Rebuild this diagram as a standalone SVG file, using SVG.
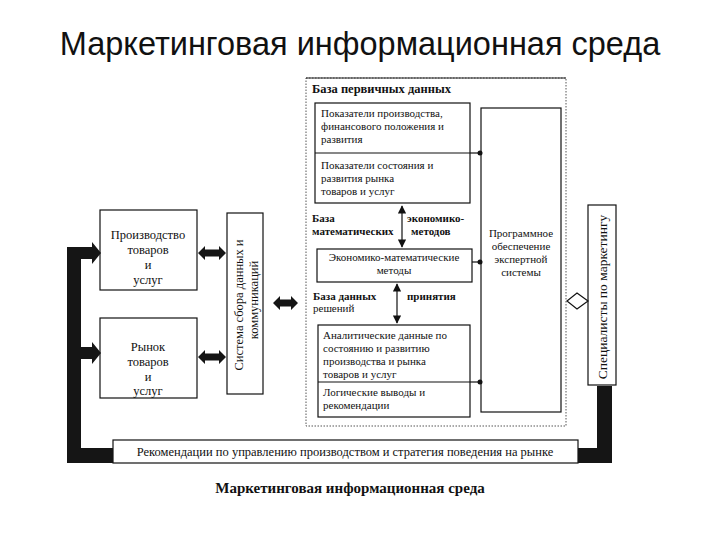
<svg xmlns="http://www.w3.org/2000/svg" width="720" height="540" viewBox="0 0 720 540">
<style>
.t{font-family:"Liberation Serif","Times New Roman",serif;fill:#111}
.s11{font-size:11px}
.s12{font-size:12.5px}
.b{font-weight:bold}
.box{fill:#fff;stroke:#111;stroke-width:1.2}
.dot{fill:none;stroke:#555;stroke-width:1;stroke-dasharray:1.5 1.5}
.ln{stroke:#111;stroke-width:1.2;fill:none}
.thick{fill:#151515}
</style>
<defs>
<marker id="ah" viewBox="0 0 10 10" refX="9" refY="5" markerWidth="7" markerHeight="7" orient="auto-start-reverse">
<path d="M0,0 L10,5 L0,10 z" fill="#111"/>
</marker>
</defs>
<rect width="720" height="540" fill="#fff"/>
<text x="360" y="55" text-anchor="middle" style="font-family:'Liberation Sans',Arial,sans-serif;font-size:32.5px;fill:#111">Маркетинговая информационная среда</text>

<g id="outer-panel">
<rect class="dot" x="306" y="78" width="260" height="348"/>
<line x1="306" y1="78" x2="566" y2="78" stroke="#222" stroke-width="1.2"/>
<text class="t s12 b" x="312" y="93">База первичных данных</text>
</g>

<g id="primary-indicators">
<rect class="box" x="315" y="103" width="155" height="100"/>
<line class="ln" x1="315" y1="153" x2="470" y2="153"/>
<text class="t s11" x="321" y="117">Показатели производства,</text>
<text class="t s11" x="321" y="130">финансового положения и</text>
<text class="t s11" x="321" y="143">развития</text>
<text class="t s11" x="321" y="169">Показатели состояния и</text>
<text class="t s11" x="321" y="182">развития рынка</text>
<text class="t s11" x="321" y="195">товаров и услуг</text>
</g>

<g id="math-labels">
<text class="t s11 b" x="312" y="222">База</text>
<text class="t s11 b" x="312" y="235">математических</text>
<text class="t s11 b" x="407" y="222">экономико-</text>
<text class="t s11 b" x="411" y="235">методов</text>
</g>

<g id="methods">
<rect class="box" x="317" y="249" width="155" height="33"/>
<text class="t s11" x="394" y="261" text-anchor="middle">Экономико-математические</text>
<text class="t s11" x="394" y="274" text-anchor="middle">методы</text>
</g>

<g id="decision-labels">
<text class="t s11 b" x="313" y="300">База данных</text>
<text class="t s11" x="313" y="312">решений</text>
<text class="t s11 b" x="407" y="300">принятия</text>
</g>

<g id="analytics">
<rect class="box" x="318" y="325" width="152" height="92"/>
<line class="ln" x1="318" y1="382" x2="470" y2="382"/>
<text class="t s11" x="323" y="339">Аналитические данные по</text>
<text class="t s11" x="323" y="352">состоянию и развитию</text>
<text class="t s11" x="323" y="365">производства и рынка</text>
<text class="t s11" x="323" y="378">товаров и услуг</text>
<text class="t s11" x="323" y="396">Логические выводы и</text>
<text class="t s11" x="323" y="409">рекомендации</text>
</g>

<g id="expert-system">
<rect class="box" x="481" y="108" width="80" height="304"/>
<text class="t s11" x="521" y="237" text-anchor="middle">Программное</text>
<text class="t s11" x="521" y="250" text-anchor="middle">обеспечение</text>
<text class="t s11" x="521" y="263" text-anchor="middle">экспертной</text>
<text class="t s11" x="521" y="276" text-anchor="middle">системы</text>
</g>

<g id="specialists">
<rect class="box" x="588" y="205" width="28" height="180"/>
<text class="t" style="font-size:13.5px" transform="translate(602,297) rotate(-90)" text-anchor="middle" dominant-baseline="central">Специалисты по маркетингу</text>
</g>

<g id="production">
<rect class="box" x="100" y="210" width="97" height="80"/>
<text class="t s12" x="148" y="239" text-anchor="middle">Производство</text>
<text class="t s12" x="148" y="254" text-anchor="middle">товаров</text>
<text class="t s12" x="148" y="269" text-anchor="middle">и</text>
<text class="t s12" x="148" y="284" text-anchor="middle">услуг</text>
</g>

<g id="market">
<rect class="box" x="100" y="318" width="97" height="80"/>
<text class="t s12" x="148" y="351" text-anchor="middle">Рынок</text>
<text class="t s12" x="148" y="366" text-anchor="middle">товаров</text>
<text class="t s12" x="148" y="381" text-anchor="middle">и</text>
<text class="t s12" x="148" y="395" text-anchor="middle">услуг</text>
</g>

<g id="collection-system">
<rect class="box" x="227" y="213" width="36" height="181"/>
<text class="t s12" transform="translate(239,305) rotate(-90)" text-anchor="middle" dominant-baseline="central">Система сбора данных и</text>
<text class="t s12" transform="translate(254,300) rotate(-90)" text-anchor="middle" dominant-baseline="central">коммуникаций</text>
</g>

<g id="recommendations">
<rect class="box" x="113" y="440" width="465" height="23"/>
<text class="t s12" x="345" y="456" text-anchor="middle">Рекомендации по управлению производством и стратегия поведения на рынке</text>
</g>

<g id="caption">
<text class="t b" x="350" y="493" text-anchor="middle" style="font-size:15px">Маркетинговая информационная среда</text>
</g>

<g id="connectors">
<line class="ln" x1="402" y1="206" x2="402" y2="247" marker-start="url(#ah)" marker-end="url(#ah)"/>
<line class="ln" x1="397" y1="284" x2="397" y2="323" marker-start="url(#ah)" marker-end="url(#ah)"/>
<line class="ln" x1="470" y1="153" x2="481" y2="153"/>
<circle cx="480" cy="153" r="2.5" fill="#111"/>
<line class="ln" x1="472" y1="262" x2="481" y2="262"/>
<circle cx="480" cy="262" r="2.5" fill="#111"/>
<line class="ln" x1="470" y1="382" x2="481" y2="382"/>
<circle cx="480" cy="382" r="2.5" fill="#111"/>
<polygon points="567,301 577,293 588,301 577,309" fill="#fff" stroke="#111" stroke-width="1.2"/>
<polygon class="thick" points="198,253 205,246 205,249.5 219,249.5 219,246 226,253 219,260 219,256.5 205,256.5 205,260"/>
<polygon class="thick" points="198,357 205,350 205,353.5 219,353.5 219,350 226,357 219,364 219,360.5 205,360.5 205,364"/>
<polygon class="thick" points="273,303 280,296 280,299.5 291,299.5 291,296 298,303 291,310 291,306.5 280,306.5 280,310"/>
<path class="thick" d="M67,247 L92,247 L92,242 L101,253 L92,264 L92,259 L81,259 L81,347 L92,347 L92,342 L101,353 L92,364 L92,359 L81,359 L81,448 L113,448 L113,463 L67,463 Z"/>
<path class="thick" d="M578,448 L597,448 L597,386 L612,386 L612,463 L578,463 Z"/>
</g>
</svg>
